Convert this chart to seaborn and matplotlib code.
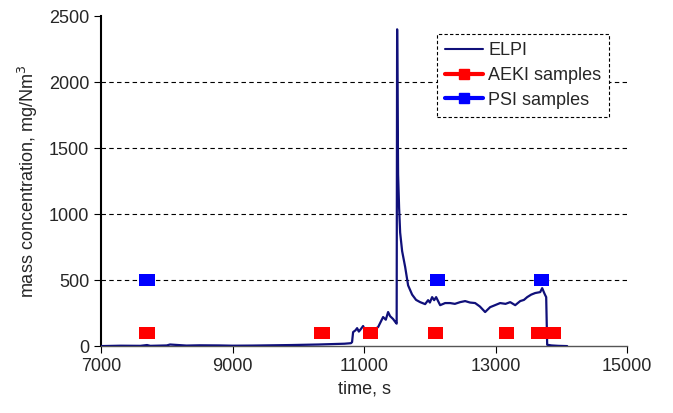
import pandas as pd
import matplotlib.pyplot as plt
from matplotlib.lines import Line2D
import seaborn as sns

# ELPI trace
elpi_t = [7000, 7300, 7600, 7700, 7750, 8000, 8050, 8300, 8500, 8800, 9000, 9300, 9600,
          9900, 10100, 10300, 10500, 10700, 10800, 10817, 10833, 10870, 10894, 10920, 10939,
          10985, 11015, 11050, 11091, 11150, 11213, 11289, 11330, 11365, 11395, 11441, 11487,
          11495, 11502, 11510, 11517, 11532, 11548, 11578, 11624, 11669, 11730, 11790, 11852,
          11928, 11973, 12000, 12034, 12065, 12095, 12156, 12232, 12308, 12380, 12460, 12536,
          12610, 12688, 12760, 12840, 12916, 12990, 13068, 13150, 13221, 13297, 13373, 13430,
          13479, 13540, 13601, 13677, 13707, 13740, 13753, 13768, 13775, 13783, 13850, 13950, 14087]
elpi_v = [0, 3, 2, 8, 2, 5, 12, 4, 6, 5, 3, 4, 6,
          8, 10, 12, 15, 18, 22, 30, 106, 120, 136, 110, 121,
          152, 120, 130, 110, 125, 144, 220, 200, 258, 227, 205, 174,
          170, 2400, 1800, 1300, 1050, 860, 720, 600, 460, 390, 350, 333,
          318, 348, 330, 371, 348, 371, 310, 326, 326, 320, 333, 341,
          330, 326, 300, 258, 295, 310, 326, 320, 333, 310, 341, 350,
          371, 390, 402, 409, 439, 400, 386, 371, 200, 10, 5, 2, 0]

aeki_t = [7700, 10360, 11100, 12090, 13160, 13650, 13770, 13880]
aeki_v = [100, 100, 100, 100, 100, 100, 100, 100]

psi_t = [7700, 12120, 13700]
psi_v = [500, 500, 500]

elpi = pd.DataFrame({"t": elpi_t, "v": elpi_v})
aeki = pd.DataFrame({"t": aeki_t, "v": aeki_v})
psi = pd.DataFrame({"t": psi_t, "v": psi_v})

sns.set_style("white")
plt.rcParams['font.family'] = ['Liberation Sans', 'DejaVu Sans']

fig = plt.figure(figsize=(6.73, 4.13), dpi=100)
ax = fig.add_axes([0.150, 0.162, 0.782, 0.799])

# dashed grid lines
for g in [500, 1000, 1500, 2000]:
    ax.axhline(g, color='black', lw=0.8, ls=(0, (4, 3)), zorder=0)

sns.lineplot(data=elpi, x="t", y="v", ax=ax, color='#10107a', lw=1.6, zorder=3)

rect = [(-1.3, -1), (1.3, -1), (1.3, 1), (-1.3, 1), (-1.3, -1)]
sns.scatterplot(data=aeki, x="t", y="v", ax=ax, marker=rect, s=120, color='#ff0000',
                edgecolor='none', zorder=4)
sns.scatterplot(data=psi, x="t", y="v", ax=ax, marker=rect, s=120, color='#0000ff',
                edgecolor='none', zorder=4)

ax.set_xlim(7000, 15000)
ax.set_ylim(0, 2500)
ax.set_xticks([7000, 9000, 11000, 13000, 15000])
ax.set_yticks([0, 500, 1000, 1500, 2000, 2500])
ax.tick_params(axis='both', direction='out', length=5, width=0.8, labelsize=13,
               bottom=True, left=True, color='black')
ax.set_xlabel('time, s', fontsize=13)
ax.set_ylabel('mass concentration, mg/Nm$^3$', fontsize=13, labelpad=6)

ax.spines['top'].set_visible(False)
ax.spines['right'].set_visible(False)
ax.spines['left'].set_color('black')
ax.spines['left'].set_linewidth(1.5)
ax.spines['bottom'].set_color('#555555')
ax.spines['bottom'].set_linewidth(1.0)

handles = [
    Line2D([], [], color='#10107a', lw=1.5),
    Line2D([], [], color='#ff0000', lw=3, marker='s', markersize=7),
    Line2D([], [], color='#0000ff', lw=3, marker='s', markersize=7),
]
leg = ax.legend(handles, ['ELPI', 'AEKI samples', 'PSI samples'], loc='upper right',
                bbox_to_anchor=(0.966, 0.945), fontsize=13, fancybox=False, framealpha=1,
                handlelength=2.1, handletextpad=0.3, borderpad=0.45, labelspacing=0.42,
                borderaxespad=0)
leg.get_frame().set_edgecolor('black')
leg.get_frame().set_linestyle((0, (3, 2)))
leg.get_frame().set_linewidth(0.8)

plt.savefig('out.png', dpi=100)
